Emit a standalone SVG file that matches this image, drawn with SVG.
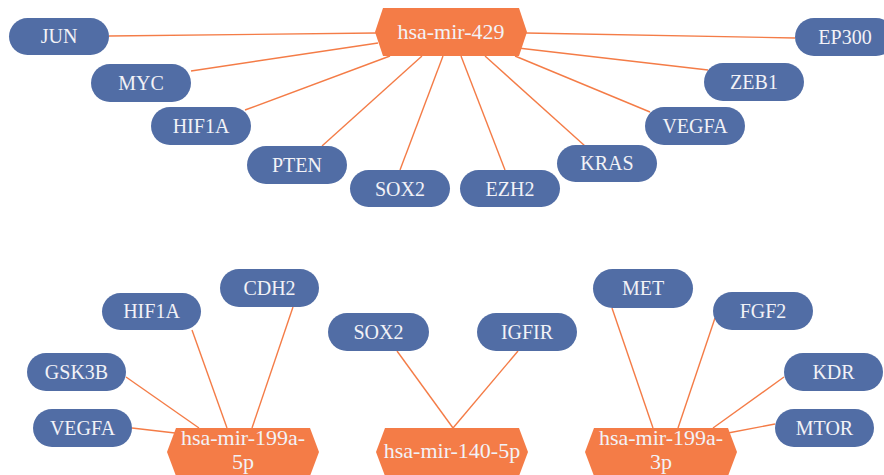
<svg xmlns="http://www.w3.org/2000/svg" width="884" height="475" viewBox="0 0 884 475">
<style>
.pill{fill:#516DA5}
.hex{fill:#F47C47}
.lbl{font-family:"Liberation Serif","Times New Roman",serif;font-size:20px;fill:#F2F2F7;text-anchor:middle}
.hl{font-size:22px}
.edge line{stroke:#F47C47;stroke-width:1.4}
</style>
<rect width="884" height="475" fill="#ffffff"/>
<g id="connectors" class="edge">
<line x1="109" y1="36" x2="376" y2="33"/>
<line x1="191" y1="71" x2="378" y2="43"/>
<line x1="245" y1="110" x2="390" y2="56"/>
<line x1="322" y1="146" x2="422" y2="56"/>
<line x1="400" y1="170" x2="443" y2="56"/>
<line x1="505" y1="170" x2="461" y2="56"/>
<line x1="585" y1="146" x2="485" y2="56"/>
<line x1="650" y1="112" x2="515" y2="56"/>
<line x1="708" y1="70" x2="518" y2="48"/>
<line x1="795" y1="38" x2="526" y2="33"/>
<line x1="293" y1="307" x2="252" y2="428"/>
<line x1="192" y1="330" x2="227" y2="428"/>
<line x1="126" y1="377" x2="199" y2="428"/>
<line x1="132" y1="428" x2="175" y2="433"/>
<line x1="397" y1="351" x2="453" y2="428"/>
<line x1="518" y1="351" x2="453" y2="428"/>
<line x1="612" y1="308" x2="653" y2="428"/>
<line x1="715" y1="318" x2="678" y2="428"/>
<line x1="784" y1="377" x2="713" y2="428"/>
<line x1="775" y1="424" x2="728" y2="433"/>
</g>
<g id="n-mir429"><polygon class="hex" points="375,32 383,8 519,8 527,32 519,56 383,56"/><text class="lbl hl" x="451" y="39">hsa-mir-429</text></g>
<g id="n-jun"><rect class="pill" x="9" y="18" width="100" height="37" rx="18.5"/><text class="lbl" x="59" y="43">JUN</text></g>
<g id="n-myc"><rect class="pill" x="91" y="64" width="100" height="38" rx="19"/><text class="lbl" x="141" y="90">MYC</text></g>
<g id="n-hif1a-top"><rect class="pill" x="151" y="107" width="100" height="38" rx="19"/><text class="lbl" x="201" y="133">HIF1A</text></g>
<g id="n-pten"><rect class="pill" x="247" y="146" width="100" height="38" rx="19"/><text class="lbl" x="297" y="172">PTEN</text></g>
<g id="n-sox2-top"><rect class="pill" x="350" y="170" width="100" height="37" rx="18.5"/><text class="lbl" x="400" y="196">SOX2</text></g>
<g id="n-ezh2"><rect class="pill" x="460" y="170" width="100" height="37" rx="18.5"/><text class="lbl" x="510" y="196">EZH2</text></g>
<g id="n-kras"><rect class="pill" x="557" y="145" width="100" height="37" rx="18.5"/><text class="lbl" x="607" y="170">KRAS</text></g>
<g id="n-vegfa-top"><rect class="pill" x="645" y="107" width="100" height="38" rx="19"/><text class="lbl" x="695" y="133">VEGFA</text></g>
<g id="n-zeb1"><rect class="pill" x="704" y="63" width="100" height="38" rx="19"/><text class="lbl" x="754" y="89">ZEB1</text></g>
<g id="n-ep300"><rect class="pill" x="795" y="18" width="100" height="38" rx="19"/><text class="lbl" x="845" y="44">EP300</text></g>

<g id="n-mir199a5p"><polygon class="hex" points="167,452 176,428 310,428 319,452 310,476 176,476"/><text class="lbl hl" x="243" y="445">hsa-mir-199a-</text><text class="lbl hl" x="243" y="469">5p</text></g>
<g id="n-cdh2"><rect class="pill" x="220" y="269" width="99" height="38" rx="19"/><text class="lbl" x="269.5" y="295">CDH2</text></g>
<g id="n-hif1a-bot"><rect class="pill" x="102" y="293" width="99" height="37" rx="18.5"/><text class="lbl" x="151.5" y="318">HIF1A</text></g>
<g id="n-gsk3b"><rect class="pill" x="27" y="353" width="99" height="38" rx="19"/><text class="lbl" x="76.5" y="379">GSK3B</text></g>
<g id="n-vegfa-bot"><rect class="pill" x="33" y="409" width="99" height="38" rx="19"/><text class="lbl" x="82.5" y="435">VEGFA</text></g>

<g id="n-mir140"><polygon class="hex" points="376,452 385,428 519,428 528,452 519,476 385,476"/><text class="lbl hl" x="452" y="458">hsa-mir-140-5p</text></g>
<g id="n-sox2-bot"><rect class="pill" x="328" y="313" width="101" height="38" rx="19"/><text class="lbl" x="378.5" y="339">SOX2</text></g>
<g id="n-igfir"><rect class="pill" x="477" y="313" width="100" height="38" rx="19"/><text class="lbl" x="527" y="339">IGFIR</text></g>

<g id="n-mir199a3p"><polygon class="hex" points="585,452 594,428 728,428 737,452 728,476 594,476"/><text class="lbl hl" x="661" y="445">hsa-mir-199a-</text><text class="lbl hl" x="661" y="469">3p</text></g>
<g id="n-met"><rect class="pill" x="593" y="269" width="100" height="39" rx="19.5"/><text class="lbl" x="643" y="295">MET</text></g>
<g id="n-fgf2"><rect class="pill" x="713" y="292" width="100" height="38" rx="19"/><text class="lbl" x="763" y="318">FGF2</text></g>
<g id="n-kdr"><rect class="pill" x="784" y="353" width="99" height="38" rx="19"/><text class="lbl" x="833.5" y="379">KDR</text></g>
<g id="n-mtor"><rect class="pill" x="775" y="409" width="99" height="38" rx="19"/><text class="lbl" x="824.5" y="435">MTOR</text></g>
</svg>
